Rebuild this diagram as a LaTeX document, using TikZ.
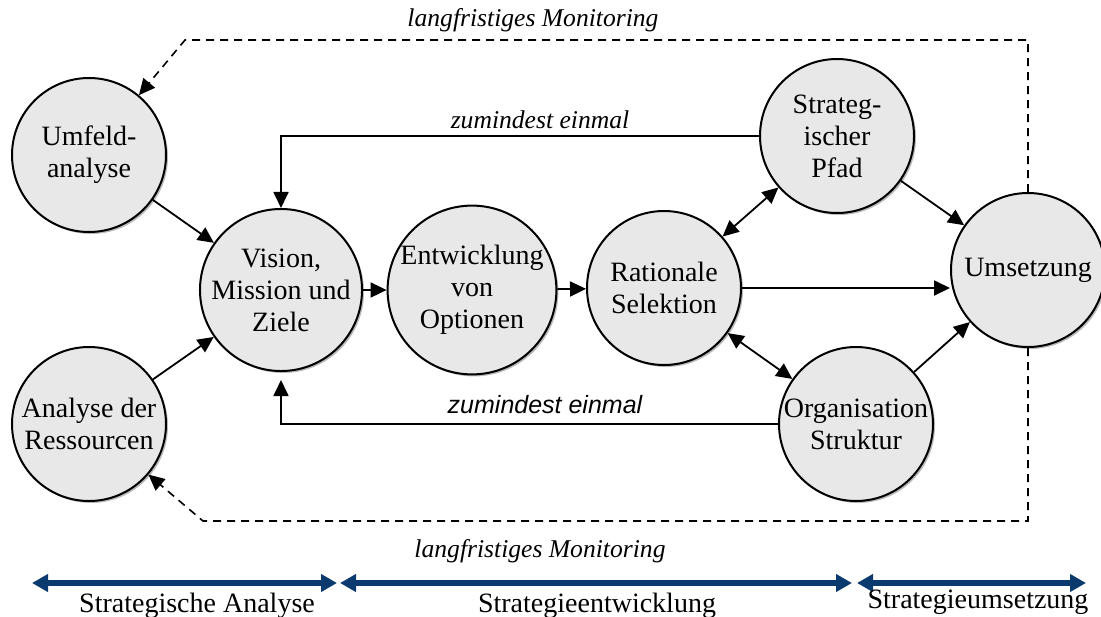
\documentclass[tikz,border=0pt]{standalone}
\usepackage{fontspec}
\setmainfont{Liberation Serif}
\setsansfont{Liberation Sans}
\usetikzlibrary{arrows.meta,shadows}

\tikzset{VertexStyle/.style = {shape=circle, draw, line width=1pt, fill=black!9,
                               minimum size=77pt, inner sep=0pt, align=center,
                               font=\fontsize{14}{16}\selectfont,
                               drop shadow={shadow xshift=1pt, shadow yshift=-1pt, fill=black!55}},
         EdgeStyle/.style = {->, line width=0.9pt},
         MonitorStyle/.style = {->, line width=0.8pt, dash pattern=on 4pt off 3pt},
         PhaseStyle/.style = {{Triangle[length=8pt,width=8.5pt]}-{Triangle[length=8pt,width=8.5pt]},
                              line width=3pt, draw=phaseblue},
         LabelStyle/.style = {font=\fontsize{12.8}{14}\selectfont\itshape, inner sep=0pt}
  }
\definecolor{phaseblue}{HTML}{0B3A6E}

\begin{document}
\begin{tikzpicture}[x=0.5pt, y=-0.5pt, >={Triangle[length=8pt,width=7.5pt]}]
\useasboundingbox (0,0) rectangle (1101,616);

\node[VertexStyle] (U) at (89,155)  {Umfeld-\\analyse};
\node[VertexStyle] (R) at (89,424)  {Analyse der\\Ressourcen};
\node[VertexStyle] (V) at (281,290) {Vision,\\Mission und\\Ziele};
\node[VertexStyle] (E) at (472,290) {Entwicklung\\von\\Optionen};
\node[VertexStyle] (S) at (664,288) {Rationale\\Selektion};
\node[VertexStyle] (P) at (837,136) {Strateg-\\ischer\\Pfad};
\node[VertexStyle] (O) at (856,424) {Organisation\\Struktur};
\node[VertexStyle] (M) at (1028,270) {Umsetzung};

\draw[EdgeStyle] (U) -- (V);
\draw[EdgeStyle] (R) -- (V);
\draw[EdgeStyle] (V) -- (E);
\draw[EdgeStyle] (E) -- (S);
\draw[EdgeStyle] (S) -- (S -| M.west);
%-----------------------------
\draw[EdgeStyle,<->] (S) -- (P);
\draw[EdgeStyle,<->] (S) -- (O);
\draw[EdgeStyle] (P) -- (M);
\draw[EdgeStyle] (O) -- (M);
%-----------------------------
\draw[EdgeStyle] (P.west) -| (V.north);
\draw[EdgeStyle,shorten >=4pt] (O.west) -| (V.south);
\node[LabelStyle] (zo) at (540,120) {zumindest einmal};
\node[LabelStyle,font=\fontsize{12.5}{14}\sffamily\itshape] (zu) at (545,405) {zumindest einmal};

% langfristiges Monitoring
\coordinate (tl) at (185,40);
\coordinate (bl) at (203,521);
\draw[MonitorStyle] (M.north) |- (tl) -- (U);
\draw[MonitorStyle] (M.south) |- (bl) -- (R);
\node[LabelStyle] (mo) at (533,20) {langfristiges Monitoring};
\node[LabelStyle] (mu) at (540,551) {langfristiges Monitoring};

% Phasen
\coordinate (p0) at (32,583);
\coordinate (p1) at (337,583);
\coordinate (p2) at (340,583);
\coordinate (p3) at (852,583);
\coordinate (p4) at (857,583);
\coordinate (p5) at (1086,583);
\draw[PhaseStyle] (p0) -- (p1);
\draw[PhaseStyle] (p2) -- (p3);
\draw[PhaseStyle] (p4) -- (p5);
\tikzset{LabelStyle/.append style={font=\fontsize{14}{16}\selectfont, anchor=base}}
\node[LabelStyle] (ph1) at (197,612) {Strategische Analyse};
\node[LabelStyle] (ph2) at (597,612) {Strategieentwicklung};
\node[LabelStyle] (ph3) at (978,608) {Strategieumsetzung};

\end{tikzpicture}
\end{document}
